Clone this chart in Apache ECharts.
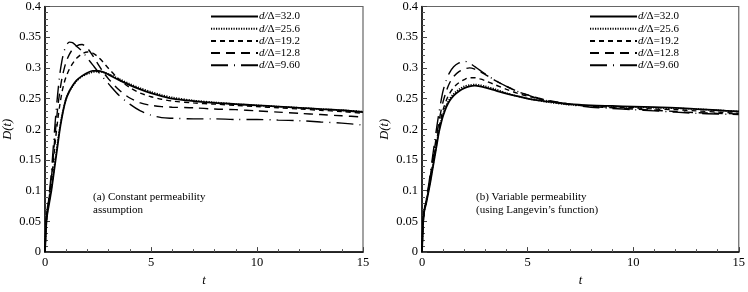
<!DOCTYPE html>
<html><head><meta charset="utf-8">
<script src="https://cdn.jsdelivr.net/npm/echarts@6/dist/echarts.min.js"></script>
<style>html,body{margin:0;padding:0;background:#fff}#c{width:748px;height:292px}</style>
</head><body><div id="c"></div>
<script>
const tVals = [0,0.05,0.1,0.2,0.3,0.4,0.5,0.6,0.7,0.8,0.9,1.0,1.15,1.3,1.5,1.75,2.0,2.25,2.5,2.75,3.0,3.5,4.0,4.5,5,5.5,6,7,8,9,10,11,12,13,14,15];
const seriesNames = ['32.0','25.6','19.2','12.8','9.60'];
const xTicks = [0,5,10,15];
const yTicks = [0,0.05,0.1,0.15,0.2,0.25,0.3,0.35,0.4];

// (a) Constant permeability assumption
const a32 = [0,0.04,0.06,0.08,0.10,0.125,0.15,0.175,0.2,0.22,0.237,0.25,0.262,0.271,0.28,0.287,0.292,0.295,0.295,0.293,0.289,0.28,0.272,0.265,0.259,0.254,0.25,0.246,0.243,0.241,0.239,0.237,0.235,0.233,0.231,0.228];
const a25 = [0,0.042,0.062,0.085,0.105,0.13,0.155,0.18,0.203,0.222,0.238,0.25,0.262,0.27,0.279,0.286,0.29,0.293,0.294,0.293,0.29,0.282,0.274,0.267,0.261,0.256,0.252,0.247,0.244,0.241,0.239,0.237,0.235,0.233,0.231,0.229];
const a19 = [0,0.045,0.065,0.09,0.115,0.15,0.185,0.215,0.24,0.26,0.275,0.286,0.298,0.307,0.316,0.323,0.326,0.324,0.318,0.309,0.299,0.281,0.268,0.259,0.253,0.249,0.246,0.243,0.241,0.239,0.237,0.235,0.233,0.231,0.229,0.226];
const a12 = [0,0.045,0.065,0.092,0.12,0.16,0.2,0.235,0.262,0.283,0.298,0.31,0.322,0.33,0.336,0.338,0.332,0.32,0.306,0.293,0.282,0.264,0.251,0.243,0.239,0.237,0.236,0.235,0.233,0.232,0.23,0.228,0.226,0.224,0.222,0.22];
const a96 = [0,0.045,0.068,0.095,0.13,0.175,0.22,0.258,0.29,0.312,0.327,0.336,0.342,0.341,0.335,0.327,0.316,0.305,0.294,0.284,0.274,0.255,0.241,0.23,0.223,0.219,0.218,0.217,0.217,0.216,0.216,0.215,0.214,0.212,0.21,0.207];

// (b) Variable permeability (Langevin's function)
const b32 = [0,0.045,0.065,0.08,0.097,0.115,0.135,0.155,0.175,0.195,0.21,0.222,0.236,0.246,0.255,0.262,0.267,0.27,0.271,0.27,0.268,0.263,0.258,0.254,0.25,0.247,0.245,0.241,0.239,0.238,0.237,0.236,0.235,0.233,0.231,0.229];
const b25 = [0,0.045,0.065,0.081,0.099,0.118,0.138,0.158,0.178,0.198,0.213,0.225,0.239,0.249,0.258,0.265,0.27,0.272,0.273,0.272,0.27,0.265,0.259,0.254,0.25,0.247,0.244,0.24,0.238,0.237,0.236,0.235,0.234,0.233,0.231,0.229];
const b19 = [0,0.046,0.066,0.082,0.1,0.12,0.142,0.163,0.183,0.202,0.218,0.232,0.247,0.258,0.268,0.276,0.281,0.284,0.284,0.282,0.279,0.272,0.265,0.259,0.254,0.25,0.246,0.241,0.238,0.236,0.235,0.233,0.232,0.23,0.228,0.226];
const b12 = [0,0.047,0.067,0.084,0.103,0.125,0.148,0.17,0.192,0.212,0.23,0.245,0.262,0.275,0.286,0.294,0.298,0.3,0.298,0.294,0.289,0.279,0.27,0.262,0.256,0.251,0.247,0.241,0.237,0.235,0.233,0.231,0.229,0.227,0.226,0.225];
const b96 = [0,0.048,0.068,0.086,0.106,0.13,0.155,0.18,0.204,0.226,0.246,0.263,0.28,0.292,0.302,0.308,0.311,0.308,0.302,0.296,0.29,0.279,0.27,0.262,0.256,0.25,0.246,0.24,0.236,0.234,0.232,0.23,0.228,0.226,0.225,0.224];

const panelA = [a32,a25,a19,a12,a96];
const panelB = [b32,b25,b19,b12,b96];

const SERIF = '"Liberation Serif","DejaVu Serif",serif';
const styles = [
  {type:'solid', width:1.8},
  {type:[1.2,1.3], width:1.6},
  {type:[5,4], width:1.4},
  {type:[9,6], width:1.4},
  {type:[17,6,1,6], width:1.4}
];

function pairs(arr){ return tVals.map((t,i)=>[t,arr[i]]); }

const series = [];
[panelA, panelB].forEach((panel, gi) => {
  panel.forEach((arr, si) => {
    series.push({
      type:'line', name: seriesNames[si], xAxisIndex: gi, yAxisIndex: gi,
      data: pairs(arr), symbol:'none', showSymbol:false, smooth:0.3, animation:false,
      lineStyle:{color:'#000', width:styles[si].width, type:styles[si].type},
      itemStyle:{color:'#000'}, z: 10 - si
    });
  });
});

function xAxis(gi){
  return {type:'value', gridIndex:gi, min:0, max:15, interval:5,
    name:'t', nameLocation:'middle', nameGap:14,
    nameTextStyle:{fontFamily:SERIF, fontStyle:'italic', fontSize:12.5, color:'#000'},
    axisLine:{show:true, lineStyle:{color:'#000', width:1.5}},
    axisTick:{show:true, inside:true, length:5, lineStyle:{color:'#444'}},
    minorTick:{show:true, splitNumber:5, length:3, lineStyle:{color:'#555'}},
    splitLine:{show:false},
    axisLabel:{fontFamily:SERIF, fontSize:12.5, color:'#000', margin:4,
      formatter:v=> xTicks.includes(v) ? String(v) : ''}
  };
}
function yAxis(gi){
  return {type:'value', gridIndex:gi, min:0, max:0.4, interval:0.05,
    name:'D(t)', nameLocation:'middle', nameGap:31,
    nameTextStyle:{fontFamily:SERIF, fontStyle:'italic', fontSize:12.5, color:'#000'},
    axisLine:{show:true, lineStyle:{color:'#000', width:1.5}},
    axisTick:{show:true, inside:true, length:5, lineStyle:{color:'#444'}},
    minorTick:{show:true, splitNumber:5, length:3, lineStyle:{color:'#555'}},
    splitLine:{show:false},
    axisLabel:{fontFamily:SERIF, fontSize:12.5, color:'#000', margin:4,
      formatter:v=>{ const f = yTicks.find(t=>Math.abs(t-v)<1e-9); return f===undefined?'':String(+f.toFixed(2)); }}
  };
}
function legend(left){
  return {show:true, orient:'vertical', left:left, top:11, itemWidth:47, itemHeight:10, itemGap:1.2,
    padding:0, data:seriesNames, selectedMode:false,
    itemStyle:{opacity:0},
    formatter: n => '{i|d/}{n|Δ=' + n + '}',
    textStyle:{fontFamily:SERIF, fontSize:11, color:'#000', padding:[0,0,0,-4],
      rich:{i:{fontFamily:SERIF, fontStyle:'italic', fontSize:11, color:'#000'},
            n:{fontFamily:SERIF, fontSize:11, color:'#000'}}}
  };
}

const chart = echarts.init(document.getElementById('c'), null, {renderer:'canvas'});
chart.setOption({
  animation:false,
  backgroundColor:'#fff',
  grid:[
    {left:44, top:5, width:319, height:261, show:true, borderColor:'#666', borderWidth:1.2, backgroundColor:'transparent'},
    {left:422, top:5, width:320, height:261, show:true, borderColor:'#666', borderWidth:1.2, backgroundColor:'transparent'}
  ],
  xAxis:[xAxis(0), xAxis(1)],
  yAxis:[yAxis(0), yAxis(1)],
  legend:[legend(210), legend(589)],
  series: series,
  graphic:[
    {type:'text', left:93, top:190, style:{text:'(a) Constant permeability\nassumption', font:'11px '+SERIF, fill:'#000', lineHeight:13.5}},
    {type:'text', left:476, top:190, style:{text:'(b) Variable permeability\n(using Langevin\u2019s function)', font:'11px '+SERIF, fill:'#000', lineHeight:13.5}}
  ]
});
</script></body></html>
